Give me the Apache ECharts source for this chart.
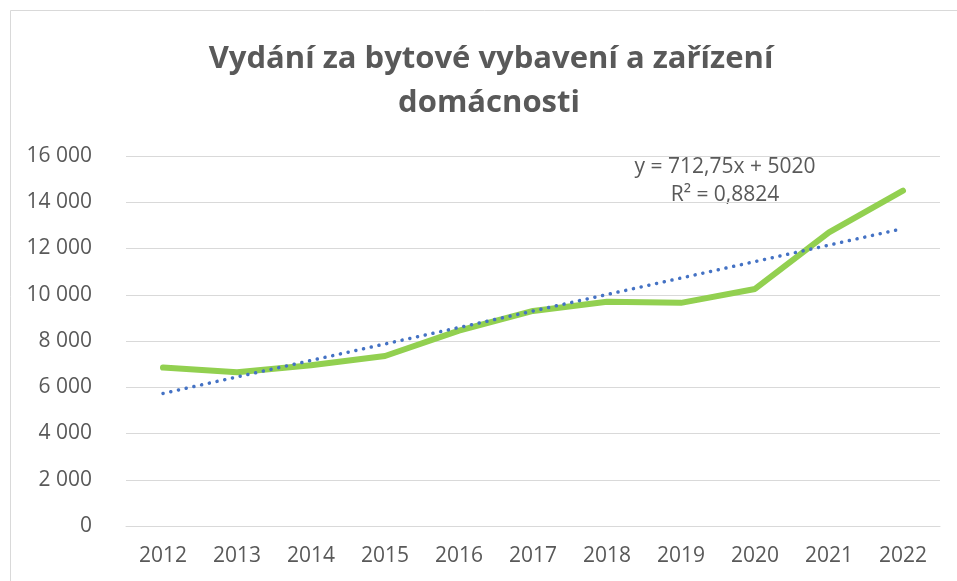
<!DOCTYPE html>
<html>
<head>
<meta charset="utf-8">
<script src="https://cdn.jsdelivr.net/npm/echarts@6/dist/echarts.min.js"></script>
<style>
html,body{margin:0;padding:0;background:#fff;}
#c{width:957px;height:581px;}
</style>
</head>
<body>
<div id="c"></div>
<script>
const categories = ['2012','2013','2014','2015','2016','2017','2018','2019','2020','2021','2022'];
const expenses = [6850, 6650, 6950, 7350, 8450, 9300, 9700, 9650, 10250, 12700, 14500];
const trend = [5733, 6446, 7159, 7872, 8584, 9297, 10010, 10723, 11435, 12148, 12861];
const yTicks = [0, 2000, 4000, 6000, 8000, 10000, 12000, 14000, 16000];
const titleLines = ['Vydání za bytové vybavení a zařízení', 'domácnosti'];
const trendLabel = ['y = 712,75x + 5020', 'R² = 0,8824'];

const chart = echarts.init(document.getElementById('c'));
const fmt = v => {
  const s = String(Math.round(v));
  return s.length > 3 ? s.slice(0, s.length - 3) + ' ' + s.slice(-3) : s;
};
chart.setOption({
  animation: false,
  backgroundColor: '#ffffff',
  grid: { left: 126, right: 17, top: 156, bottom: 55 },
  xAxis: {
    type: 'category',
    data: categories,
    boundaryGap: true,
    axisLine: { show: true, lineStyle: { color: '#d9d9d9', width: 1 } },
    axisTick: { show: false },
    axisLabel: { color: '#595959', fontFamily: 'Open Sans', fontSize: 21, margin: 20 }
  },
  yAxis: {
    type: 'value',
    min: yTicks[0],
    max: yTicks[yTicks.length - 1],
    interval: 2000,
    axisLine: { show: false },
    axisTick: { show: false },
    splitLine: { lineStyle: { color: '#d9d9d9', width: 1 } },
    axisLabel: { color: '#595959', fontFamily: 'Open Sans', fontSize: 21, margin: 34, formatter: fmt }
  },
  series: [
    {
      name: 'Vydání',
      type: 'line',
      data: expenses,
      showSymbol: false,
      symbol: 'none',
      lineStyle: { color: '#92D050', width: 6, cap: 'round', join: 'round' },
      z: 3
    },
    {
      name: 'Trend',
      type: 'line',
      data: trend,
      showSymbol: false,
      symbol: 'none',
      lineStyle: { color: '#4472C4', width: 3.5, type: [0.1, 7.8], cap: 'round' },
      z: 4
    }
  ],
  graphic: [
    { type: 'rect', shape: { x: 10.5, y: 10.5, width: 1000, height: 1000 }, style: { fill: 'none', stroke: '#d9d9d9', lineWidth: 1 }, silent: true, z: -1 },
    { type: 'text', x: 491, y: 59, style: { text: titleLines[0], fontFamily: 'Open Sans', fontWeight: 'bold', fontSize: 31, fill: '#595959', align: 'center', verticalAlign: 'middle' } },
    { type: 'text', x: 489, y: 103, style: { text: titleLines[1], fontFamily: 'Open Sans', fontWeight: 'bold', fontSize: 31, fill: '#595959', align: 'center', verticalAlign: 'middle' } },
    { type: 'text', x: 725, y: 167, style: { text: trendLabel[0], fontFamily: 'Open Sans', fontSize: 21, fill: '#595959', align: 'center', verticalAlign: 'middle' } },
    { type: 'text', x: 725, y: 195, style: { text: trendLabel[1], fontFamily: 'Open Sans', fontSize: 21, fill: '#595959', align: 'center', verticalAlign: 'middle' } }
  ]
});
</script>
</body>
</html>
